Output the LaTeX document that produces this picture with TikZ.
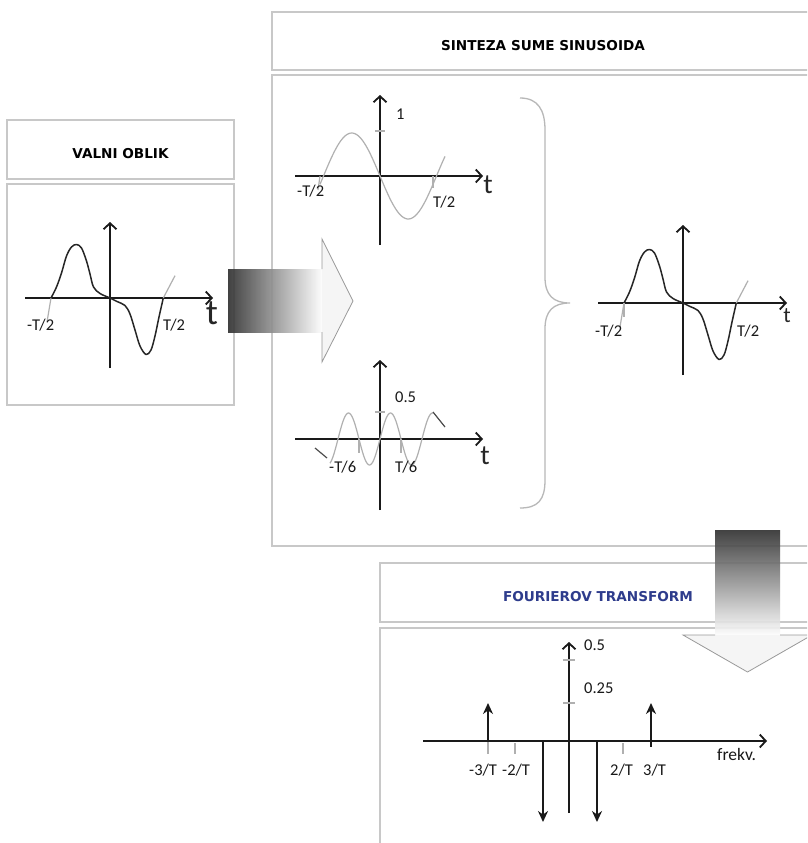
\documentclass[tikz,border=0pt]{standalone}
\usepackage{fontspec}
\setmainfont{Carlito}
\newfontfamily\titlefont{DejaVu Sans}
\usetikzlibrary{arrows.meta}
\definecolor{boxline}{HTML}{C8C8C8}
\definecolor{axiscol}{HTML}{1A1A1A}
\definecolor{curvegray}{HTML}{B0B0B0}
\definecolor{ftblue}{HTML}{2E3C8C}
\newcommand{\mywave}{%
  \draw[gline] (-59,0) -- (-63,24);
  \draw[wave] plot[smooth, tension=0.55] coordinates {(-59,0) (-53.5,-11) (-48.5,-25) (-43.5,-42) (-38.5,-51) (-33.5,-53.5) (-28.5,-50) (-23.5,-37) (-20,-24) (-16.5,-11) (-10,-4.5) (0,0) (7,3.5) (15,7.5) (20,16) (25,32) (30,48) (36,56.5) (41,52) (45,38) (49,19) (53.3,0)};
  \draw[gline] (53.3,0) -- (65,-22.3);}
\begin{document}
\begin{tikzpicture}[x=1pt,y=-1pt,
  box/.style={draw=boxline, line width=1.5pt, inner sep=0pt, outer sep=0pt, anchor=north west},
  ax/.style={draw=axiscol, line width=1.8pt, -{Straight Barb[length=6pt,width=13pt]}},
  wave/.style={draw=black!85, line width=1.5pt, line join=round},
  gline/.style={draw=curvegray, line width=1.2pt},
  dline/.style={draw=black!70, line width=1.2pt},
  lbl/.style={font=\fontsize{16.5}{19}\selectfont, inner sep=0pt, anchor=base west, text=black!90},
  flbl/.style={font=\fontsize{16.5}{19}\selectfont, inner sep=0pt, anchor=base west, text=black!90},
  ttl/.style={font=\titlefont\bfseries\fontsize{13.6}{16}\selectfont, inner sep=0pt},
  spike/.style={draw=axiscol, line width=2pt, -{Stealth[length=11pt,width=10pt]}},
  arrline/.style={draw=black!40, line width=0.8pt, line join=miter}]
\useasboundingbox (0,0) rectangle (807,843);
\clip (0,0) rectangle (807,843);
\fill[white] (0,0) rectangle (807,843);

% boxes
\node[box, minimum width=227pt, minimum height=59pt] (valniT) at (7,120) {};
\node[box, minimum width=227pt, minimum height=221pt] (valniC) at (7,184) {};
\node[box, minimum width=543pt, minimum height=58pt] (sintT) at (272,12) {};
\node[box, minimum width=543pt, minimum height=471pt] (sintC) at (272,75) {};
\node[box, minimum width=435pt, minimum height=59pt] (fourT) at (380,563) {};
\node[box, minimum width=435pt, minimum height=240pt] (fourC) at (380,628) {};

% titles
\node[ttl] (tValni) at (120.5,154) {VALNI OBLIK};
\node[ttl] (tSint) at (543,46) {SINTEZA SUME SINUSOIDA};
\node[ttl, text=ftblue] (tFour) at (598,596.5) {FOURIEROV TRANSFORM};

% horizontal gradient arrow
\shade[left color=black!82, right color=white, fill opacity=0.9] (228,269) rectangle (323,332);
\fill[white!96!black, fill opacity=0.9] (322,239) -- (353,301) -- (322,362) -- cycle;
\draw[arrline] (322,269) -- (322,239) -- (353,301) -- (322,362) -- (322,332);

% vertical gradient arrow
\shade[top color=black!82, bottom color=white, fill opacity=0.9] (715,530) rectangle (780,636);
\fill[white!96!black, fill opacity=0.9] (683,635) -- (812,635) -- (747.5,672) -- cycle;
\draw[arrline] (715,635) -- (683,635) -- (747.5,672) -- (812,635) -- (780,635);

% left waveform
\begin{scope}[shift={(110,298)}]
  \draw[ax] (-85,0) -- (103,0);
  \draw[ax] (0,70) -- (0,-76);
  \mywave
\end{scope}
\node[lbl] (l1) at (27,330) {-T/2};
\node[lbl] (l2) at (163,330) {T/2};
\node[inner sep=0pt, font=\fontsize{36}{40}\selectfont, text=black!85] (t1) at (212,313) {t};

% top sinusoid
\begin{scope}[shift={(380,176)}]
  \draw[ax] (-85,0) -- (103,0);
  \draw[ax] (0,69) -- (0,-81);
  \draw[gline] plot[domain=-60:65, samples=80, smooth] (\x,{43*sin(3.18584*\x)});
  \draw[gline] (-60,0) -- (-62,14);
  \draw[gline] (53,0) -- (53,12);
  \draw[gline] (-5,-45) -- (5,-45);
\end{scope}
\node[lbl] (l3) at (297,196) {-T/2};
\node[lbl] (l4) at (433,207) {T/2};
\node[lbl] (l5) at (396,119) {1};
\node[inner sep=0pt, font=\fontsize{28}{32}\selectfont, text=black!85] (t2) at (488,185) {t};

% bottom sinusoid
\begin{scope}[shift={(380,439)}]
  \draw[ax] (-85,0) -- (103,0);
  \draw[ax] (0,71) -- (0,-79);
  \draw[gline] plot[domain=-50:53, samples=120, smooth] (\x,{-26*sin(8.5714*\x)});
  \draw[dline] (-65,9) -- (-53,19);
  \draw[dline] (53,-27) -- (65,-12);
  \draw[gline] (-21,0) -- (-21,14);
  \draw[gline] (21,0) -- (21,14);
  \draw[gline] (-5,-27) -- (5,-27);
\end{scope}
\node[lbl] (l6) at (395,402) {0.5};
\node[lbl] (l7) at (329,472) {-T/6};
\node[lbl] (l8) at (395,472) {T/6};
\node[inner sep=0pt, font=\fontsize{28}{32}\selectfont, text=black!85] (t3) at (485,456) {t};

% brace
\draw[draw=curvegray!90, line width=1.3pt] (520,98) .. controls (538,98) and (545,110) .. (545,130) -- (545,277) .. controls (545,295) and (553,303) .. (570,303) .. controls (553,303) and (545,311) .. (545,329) -- (545,480) .. controls (545,500) and (538,508) .. (520,508);

% right waveform
\begin{scope}[shift={(683,303)}]
  \draw[ax] (-85,0) -- (104,0);
  \draw[ax] (0,72) -- (0,-78);
  \mywave
  \draw[gline] (-59,0) -- (-59,14);
\end{scope}
\node[lbl] (l9) at (595,336) {-T/2};
\node[lbl] (l10) at (737,336) {T/2};
\node[inner sep=0pt, font=\fontsize{22}{26}\selectfont, text=black!85] (t4) at (787,316) {t};

% Fourier spectrum
\draw[ax] (423,741) -- (767,741);
\draw[ax] (569,813) -- (569,642);
\draw[gline] (563,660) -- (575,660);
\draw[gline] (563,703) -- (575,703);
\draw[gline] (488,741) -- (488,754);
\draw[gline] (515,743) -- (515,754);
\draw[gline] (623,743) -- (623,754);
\draw[draw=axiscol, line width=1.6pt] (651,741) -- (651,747);
\draw[spike] (488,742) -- (488,703);
\draw[spike] (651,742) -- (651,703);
\draw[spike] (543,740) -- (543,822);
\draw[spike] (597,740) -- (597,822);
\node[flbl] (f1) at (584,650) {0.5};
\node[flbl] (f2) at (584,693) {0.25};
\node[flbl] (f3) at (469,775) {-3/T};
\node[flbl] (f4) at (502,775) {-2/T};
\node[flbl] (f5) at (610,775) {2/T};
\node[flbl] (f6) at (643,775) {3/T};
\node[flbl, font=\fontsize{17.5}{20}\selectfont] (f7) at (717,760) {frekv.};
\end{tikzpicture}
\end{document}
